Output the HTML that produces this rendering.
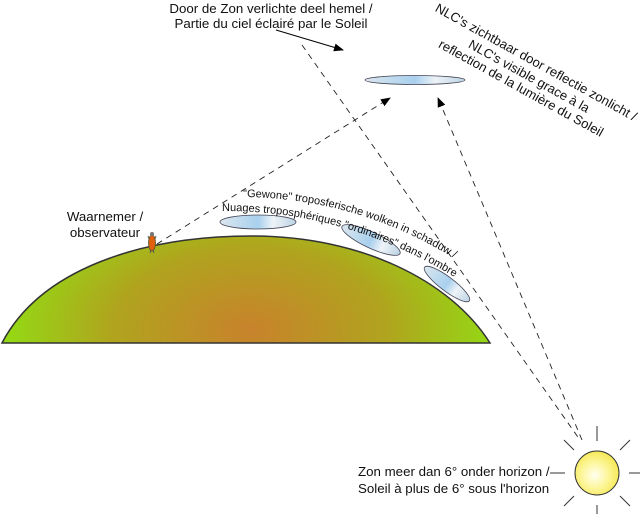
<!DOCTYPE html>
<html><head><meta charset="utf-8"><style>
html,body{margin:0;padding:0;background:#fff;}
svg{display:block;font-family:"Liberation Sans",sans-serif;}
</style></head><body>
<svg width="640" height="514" viewBox="0 0 640 514" xmlns="http://www.w3.org/2000/svg">
<defs>
<radialGradient id="hill" cx="250" cy="330" r="250" gradientUnits="userSpaceOnUse" gradientTransform="translate(250 330) scale(1 0.6) translate(-250 -330)">
<stop offset="0" stop-color="#c8822c"/>
<stop offset="0.55" stop-color="#b0a41e"/>
<stop offset="1" stop-color="#92dc14"/>
</radialGradient>
<radialGradient id="sun" cx="0.45" cy="0.55" r="0.6">
<stop offset="0" stop-color="#fffff0"/>
<stop offset="0.5" stop-color="#fdf69a"/>
<stop offset="1" stop-color="#f4e64a"/>
</radialGradient>
<linearGradient id="cl" x1="0" x2="1">
<stop offset="0" stop-color="#dbe6ee"/>
<stop offset="0.5" stop-color="#a8d0ee"/>
<stop offset="0.7" stop-color="#eef3f7"/>
<stop offset="1" stop-color="#bcd3e4"/>
</linearGradient>
<marker id="ah" markerWidth="10" markerHeight="8" refX="9" refY="4" orient="auto" markerUnits="userSpaceOnUse">
<path d="M0,0 L10,4 L0,8 Z" fill="#000"/>
</marker>
<path id="t1" d="M243,197 Q360,198 460,262"/>
<path id="t2" d="M222,211 Q345,210 456,278"/>
</defs>

<path d="M2,343 C40,270 140,236 252,236 C360,236 450,280 490,343 Z" fill="url(#hill)" stroke="#333" stroke-width="1.5"/>

<g stroke="#222" stroke-width="0.9" stroke-dasharray="6,5" fill="none">
<line x1="302" y1="45" x2="580" y2="440"/>
<line x1="157" y1="244" x2="390" y2="98" marker-end="url(#ah)"/>
<line x1="582" y1="440" x2="438" y2="98" marker-end="url(#ah)"/>
</g>

<line x1="276" y1="30" x2="343" y2="50" stroke="#000" stroke-width="1" marker-end="url(#ah)"/>

<g stroke="#445" stroke-width="0.8" fill="url(#cl)">
<ellipse cx="415" cy="80" rx="50" ry="4.5"/>
<ellipse cx="258" cy="222" rx="38" ry="7"/>
<ellipse cx="371" cy="240" rx="32" ry="8" transform="rotate(25 371 240)"/>
<ellipse cx="447" cy="284" rx="28" ry="7" transform="rotate(37 447 284)"/>
</g>

<g>
<ellipse cx="152" cy="243" rx="3.5" ry="8" fill="#e06010" stroke="#552" stroke-width="0.8"/>
<circle cx="152" cy="234" r="2" fill="#777"/>
<line x1="148" y1="236" x2="149" y2="239" stroke="#555"/>
<line x1="156" y1="236" x2="155" y2="239" stroke="#555"/>
<line x1="151" y1="250" x2="150" y2="253" stroke="#555"/>
<line x1="153" y1="250" x2="154" y2="253" stroke="#555"/>
</g>

<g stroke="#333" stroke-width="1">
<circle cx="597" cy="473" r="22" fill="url(#sun)"/>
<line x1="597" y1="441" x2="597" y2="426"/>
<line x1="597" y1="505" x2="597" y2="514"/>
<line x1="565" y1="473" x2="550" y2="473"/>
<line x1="629" y1="473" x2="640" y2="473"/>
<line x1="574" y1="450" x2="564" y2="440"/>
<line x1="620" y1="450" x2="630" y2="440"/>
<line x1="574" y1="496" x2="564" y2="506"/>
<line x1="620" y1="496" x2="630" y2="506"/>
</g>

<g font-size="13.3" fill="#111">
<text x="271" y="13" text-anchor="middle">Door de Zon verlichte deel hemel /</text>
<text x="271" y="28" text-anchor="middle">Partie du ciel éclairé par le Soleil</text>
<text x="105" y="221" text-anchor="middle">Waarnemer /</text>
<text x="105" y="237" text-anchor="middle">observateur</text>
<text x="358" y="476">Zon meer dan 6° onder horizon /</text>
<text x="358" y="493">Soleil à plus de 6° sous l'horizon</text>
</g>
<g font-size="13" fill="#111" text-anchor="middle">
<g transform="translate(534 66) rotate(29)"><text x="0" y="0" textLength="228" lengthAdjust="spacingAndGlyphs">NLC's zichtbaar door reflectie zonlicht /</text></g>
<g transform="translate(527 80) rotate(29)"><text x="0" y="0" textLength="136" lengthAdjust="spacingAndGlyphs">NLC's visible grace à la</text></g>
<g transform="translate(519 92) rotate(29)"><text x="0" y="0" textLength="186" lengthAdjust="spacingAndGlyphs">reflection de la lumière du Soleil</text></g>
</g>
<g font-size="11" fill="#111">
<text><textPath href="#t1">"Gewone" troposferische wolken in schaduw /</textPath></text>
<text><textPath href="#t2">Nuages troposphériques "ordinaires" dans l'ombre</textPath></text>
</g>
</svg>
</body></html>
